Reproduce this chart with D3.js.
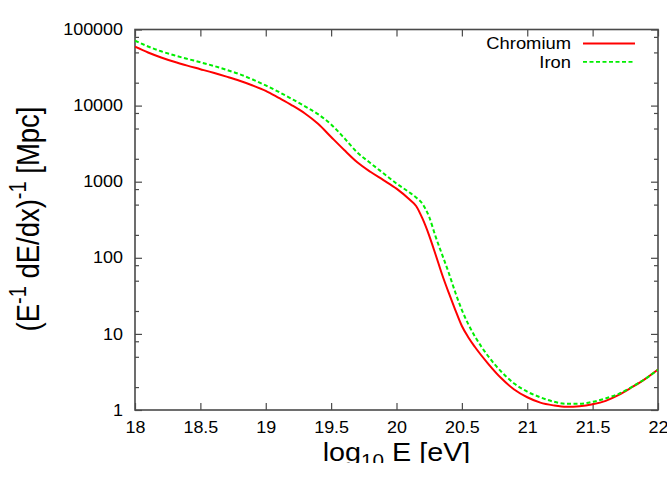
<!DOCTYPE html>
<html>
<head>
<meta charset="utf-8">
<script src="https://cdn.jsdelivr.net/npm/d3@7"></script>
<style>
  body { margin: 0; background: #fff; }
  svg { display: block; }
  text { font-family: "Liberation Sans", Arial, Helvetica, sans-serif; fill: #000; }
</style>
</head>
<body>
<svg id="chart" width="667" height="481"></svg>
<script>
// log10 of energy in eV
const energy = [18.0, 18.1, 18.2, 18.3, 18.4, 18.5, 18.6, 18.7, 18.8, 18.9,
                19.0, 19.1, 19.2, 19.3, 19.4, 19.5, 19.6, 19.7, 19.8, 19.9,
                20.0, 20.1, 20.15, 20.2, 20.25, 20.3, 20.35, 20.4, 20.45, 20.5, 20.55, 20.6,
                20.7, 20.8, 20.9, 21.0, 21.1, 21.2, 21.3, 21.4, 21.5, 21.6, 21.7, 21.8, 21.9, 22.0];

// energy-loss length (E^-1 dE/dx)^-1 in Mpc
const chromium = [59400, 49900, 42900, 37600, 33500, 30100, 27000, 24000, 21200, 18400,
                  15600, 12600, 10100, 7880, 5770, 3870, 2610, 1800, 1350, 1050,
                  811, 583, 480, 324, 196, 109, 59.4, 34.5, 20.6, 12.7, 8.97, 6.73,
                  4.08, 2.63, 1.86, 1.47, 1.25, 1.15, 1.10, 1.12, 1.19, 1.32, 1.58, 1.99, 2.55, 3.41];

const iron = [71300, 59800, 51700, 45800, 41100, 37100, 33300, 29500, 25900, 22000,
              18400, 15100, 12200, 9790, 7710, 5650, 3750, 2420, 1760, 1290,
              946, 721, 620, 509, 344, 188, 109, 63.1, 35.0, 20.6, 13.3, 9.25,
              5.12, 3.21, 2.23, 1.74, 1.47, 1.29, 1.21, 1.21, 1.28, 1.42, 1.63, 2.01, 2.55, 3.38];

const xTickValues = [18, 18.5, 19, 19.5, 20, 20.5, 21, 21.5, 22];
const yTickValues = [1, 10, 100, 1000, 10000, 100000];
const yMinorMultipliers = [2, 5, 8];
const seriesNames = ["Chromium", "Iron"];
const seriesColors = ["#ff0000", "#00ee00"];

const svg = d3.select("#chart");
const plot = { left: 135, right: 658, top: 29.5, bottom: 410 };
const frameColor = "#4a4a4a";
const stretchK = 1.15;

const x = d3.scaleLinear().domain([18, 22]).range([plot.left, plot.right]);
const y = d3.scaleLog().domain([1, 100000]).range([plot.bottom, plot.top]);

// widen glyphs horizontally to the chart's lettering
function stretch(sel, k) {
  sel.each(function () {
    const w = this.getComputedTextLength();
    this.setAttribute("textLength", w * k);
    this.setAttribute("lengthAdjust", "spacingAndGlyphs");
  });
}

const yMinor = [];
yTickValues.slice(0, -1).forEach(d => yMinorMultipliers.forEach(m => yMinor.push(d * m)));

// bottom axis with inward ticks
const gx = svg.append("g")
  .attr("transform", `translate(0,${plot.bottom})`)
  .call(d3.axisBottom(x).tickValues(xTickValues).tickFormat(d3.format("")).tickSizeInner(-7).tickSizeOuter(0).tickPadding(11.2));
// top mirrored ticks
const gxTop = svg.append("g")
  .attr("transform", `translate(0,${plot.top})`)
  .call(d3.axisTop(x).tickValues(xTickValues).tickFormat("").tickSizeInner(-7).tickSizeOuter(0));
// left axis
const gy = svg.append("g")
  .attr("transform", `translate(${plot.left},0)`)
  .call(d3.axisLeft(y).tickValues(yTickValues).tickFormat(d3.format("d")).tickSizeInner(-7).tickSizeOuter(0).tickPadding(12));
const gyMinor = svg.append("g")
  .attr("transform", `translate(${plot.left},0)`)
  .call(d3.axisLeft(y).tickValues(yMinor).tickFormat("").tickSizeInner(-4).tickSizeOuter(0));
// right mirrored ticks
const gyR = svg.append("g")
  .attr("transform", `translate(${plot.right},0)`)
  .call(d3.axisRight(y).tickValues(yTickValues).tickFormat("").tickSizeInner(-7).tickSizeOuter(0));
const gyRMinor = svg.append("g")
  .attr("transform", `translate(${plot.right},0)`)
  .call(d3.axisRight(y).tickValues(yMinor).tickFormat("").tickSizeInner(-4).tickSizeOuter(0));

[gx, gxTop, gy, gyMinor, gyR, gyRMinor].forEach(g => {
  g.select(".domain").remove();
  g.selectAll(".tick line").attr("stroke", frameColor).attr("stroke-width", 1.2);
  g.selectAll(".tick text").attr("font-size", 16).attr("font-family", null).attr("fill", "#000");
});
stretch(gx.selectAll(".tick text"), 1.12);
stretch(gy.selectAll(".tick text"), 1.12);

// frame
svg.append("rect")
  .attr("x", plot.left).attr("y", plot.top)
  .attr("width", plot.right - plot.left).attr("height", plot.bottom - plot.top)
  .attr("fill", "none").attr("stroke", frameColor).attr("stroke-width", 1.6);

// curves
svg.append("clipPath").attr("id", "plotClip")
  .append("rect").attr("x", plot.left).attr("y", plot.top)
  .attr("width", plot.right - plot.left).attr("height", plot.bottom - plot.top);

const line = d3.line().x(d => x(d[0])).y(d => y(d[1])).curve(d3.curveMonotoneX);
const series = [chromium, iron];
series.forEach((vals, i) => {
  svg.append("path")
    .datum(energy.map((e, j) => [e, vals[j]]))
    .attr("clip-path", "url(#plotClip)")
    .attr("fill", "none")
    .attr("stroke", seriesColors[i])
    .attr("stroke-width", 2)
    .attr("stroke-dasharray", i === 1 ? "4,2.5" : null)
    .attr("d", line);
});

// legend
const legend = svg.append("g");
seriesNames.forEach((name, i) => {
  const ly = 43.5 + i * 18.3;
  const t = legend.append("text")
    .attr("x", 571).attr("y", ly + 5.8)
    .attr("text-anchor", "end").attr("font-size", 17)
    .text(name);
  stretch(t, 1.08);
  legend.append("line")
    .attr("x1", 583).attr("x2", 635).attr("y1", ly).attr("y2", ly)
    .attr("stroke", seriesColors[i]).attr("stroke-width", 1.8)
    .attr("stroke-dasharray", i === 1 ? "4,2.5" : null);
});

// y-axis title
const yTitle = svg.append("g")
  .attr("transform", `translate(39,219) scale(${stretchK},1) rotate(-90)`)
  .append("text").attr("text-anchor", "middle").attr("font-size", 27.5);
yTitle.append("tspan").text("(E");
yTitle.append("tspan").attr("font-size", 20).attr("dy", -11).text("-1");
yTitle.append("tspan").attr("dy", 11).text(" dE/dx)");
yTitle.append("tspan").attr("font-size", 20).attr("dy", -11).text("-1");
yTitle.append("tspan").attr("dy", 11).text(" [Mpc]");

// x-axis title, cut at the lower edge
svg.append("clipPath").attr("id", "titleClip")
  .append("rect").attr("x", 0).attr("y", 0).attr("width", 667).attr("height", 463);
const xTitle = svg.append("g").attr("clip-path", "url(#titleClip)")
  .append("g").attr("transform", `translate(396.5,461) scale(${stretchK},1)`)
  .append("text").attr("text-anchor", "middle").attr("font-size", 25);
xTitle.append("tspan").text("log");
xTitle.append("tspan").attr("font-size", 18).attr("dy", 6).text("10");
xTitle.append("tspan").attr("dy", -6).text(" E [eV]");
</script>
</body>
</html>
